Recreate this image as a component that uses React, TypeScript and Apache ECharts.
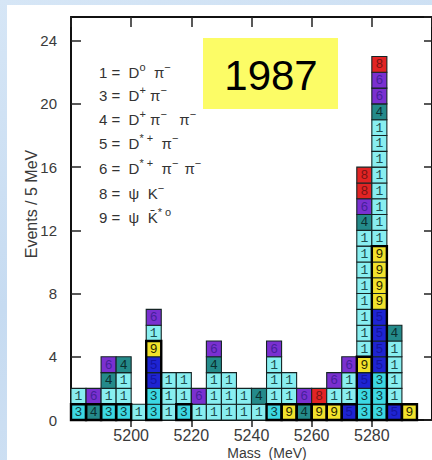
import React, { useEffect, useRef } from "react";
import * as echarts from "echarts";

// Histogram bins (lower edge, MeV), 5 MeV wide
const BIN_WIDTH = 5;
const massBins = [
  5180, 5185, 5190, 5195, 5200, 5205, 5210, 5215, 5220, 5225, 5230, 5235,
  5240, 5245, 5250, 5255, 5260, 5265, 5270, 5275, 5280, 5285, 5290,
];

// Stacked events in each bin, bottom to top, labelled by decay mode
const columns: number[][] = [
  [3, 1],
  [4, 6],
  [3, 1, 4, 6],
  [3, 1, 1, 4],
  [1],
  [3, 3, 5, 5, 9, 1, 6],
  [1, 1, 1],
  [3, 1, 1],
  [1, 6],
  [1, 1, 1, 4, 6],
  [1, 1, 1],
  [1, 1],
  [1, 4],
  [3, 1, 1, 1, 6],
  [9, 1, 1],
  [4, 6],
  [9, 8],
  [9, 1, 6],
  [5, 1, 1, 6],
  [3, 3, 5, 9, 1, 1, 1, 1, 1, 1, 1, 1, 4, 6, 8, 8],
  [3, 3, 3, 5, 5, 5, 5, 9, 9, 9, 9, 1, 1, 1, 1, 1, 1, 1, 1, 4, 6, 6, 8],
  [5, 1, 1, 1, 1, 4],
  [9],
];

// Modes whose bottom run is framed with a heavy outline
const outlinedModes = [3, 4, 5, 9];

const yTicks = { min: 0, max: 25.5, interval: 4 };
const xTicks = { min: 5180, max: 5300, interval: 20 };

const MODE_FILL: Record<number, string> = {
  1: "#88eef0",
  3: "#3cd8e2",
  4: "#248a8a",
  5: "#1e24d2",
  6: "#7a30d0",
  8: "#e22424",
  9: "#f2e22c",
};
const MODE_TEXT: Record<number, string> = {
  1: "#1d4f50",
  3: "#0f3a3c",
  4: "#0b2e2e",
  5: "#1414a0",
  6: "#45209a",
  8: "#7a1414",
  9: "#2a2800",
};

const FONT = "Liberation Sans";

export default function App() {
  const ref = useRef<HTMLDivElement>(null);

  useEffect(() => {
    if (!ref.current) return;
    const chart = echarts.init(ref.current, undefined, { renderer: "svg" });

    const boxData: number[][] = [];
    const outlineData: number[][] = [];
    massBins.forEach((m, i) => {
      const col = columns[i];
      col.forEach((mode, r) => boxData.push([m, r, mode]));
      let n = 0;
      while (n < col.length && outlinedModes.includes(col[n])) n++;
      if (n > 0) outlineData.push([m, n]);
    });

    const sup = { fontSize: 11, lineHeight: 11, verticalAlign: "top", fontFamily: FONT, fill: "#333" };
    const nor = { fontSize: 15, lineHeight: 21, fontFamily: FONT, fill: "#333" };
    const legendLines = [
      "{n|1 =  D}{s|o}{n|  π}{s|−}",
      "{n|3 =  D}{s|+}{n| π}{s|−}",
      "{n|4 =  D}{s|+}{n| π}{s|−}{n|   π}{s|−}",
      "{n|5 =  D}{s|* +}{n|  π}{s|−}",
      "{n|6 =  D}{s|* +}{n|  π}{s|−  }{n|π}{s|−}",
      "{n|8 =  ψ  K}{s|−}",
      "{n|9 =  ψ  K̄}{s|* o}",
    ];
    const legendY = [72, 95, 119, 143, 168, 193, 217];

    const option: any = {
      animation: false,
      backgroundColor: "transparent",
      grid: { left: 71, top: 17, right: -3, bottom: 40 },
      xAxis: [
        {
          type: "value",
          position: "bottom",
          min: xTicks.min,
          max: xTicks.max,
          interval: xTicks.interval,
          axisLine: { onZero: false, lineStyle: { color: "#111", width: 2 } },
          axisTick: { inside: false, length: 7, lineStyle: { color: "#222", width: 1.5 } },
          axisLabel: {
            fontSize: 16,
            color: "#3a3a3a",
            margin: 7,
            fontFamily: FONT,
            showMinLabel: false,
            showMaxLabel: false,
            formatter: (v: number) => String(v),
          },
          splitLine: { show: false },
        },
        {
          type: "value",
          position: "top",
          min: xTicks.min,
          max: xTicks.max,
          interval: xTicks.interval,
          axisLine: { onZero: false, lineStyle: { color: "#111", width: 2 } },
          axisTick: { inside: true, length: 10, lineStyle: { color: "#222", width: 1.5 } },
          axisLabel: { show: false },
          splitLine: { show: false },
        },
      ],
      yAxis: [
        {
          type: "value",
          position: "left",
          min: yTicks.min,
          max: yTicks.max,
          interval: yTicks.interval,
          axisLine: { show: true, onZero: false, lineStyle: { color: "#111", width: 2 } },
          axisTick: { show: true, inside: true, length: 10, lineStyle: { color: "#222", width: 1.5 } },
          axisLabel: { fontSize: 15, color: "#3a3a3a", margin: 14, fontFamily: FONT, showMaxLabel: false },
          splitLine: { show: false },
        },
        {
          type: "value",
          position: "right",
          min: yTicks.min,
          max: yTicks.max,
          interval: yTicks.interval,
          axisLine: { show: true, onZero: false, lineStyle: { color: "#111", width: 2 } },
          axisTick: { show: true, inside: true, length: 8, lineStyle: { color: "#222", width: 1.5 } },
          axisLabel: { show: false },
          splitLine: { show: false },
        },
      ],
      series: [
        {
          type: "custom",
          xAxisIndex: 0,
          yAxisIndex: 0,
          encode: { x: 0, y: 1 },
          data: boxData,
          z: 3,
          renderItem: (_p: any, api: any) => {
            const m = api.value(0);
            const r = api.value(1);
            const mode = api.value(2);
            const p0 = api.coord([m, r]);
            const p1 = api.coord([m + BIN_WIDTH, r + 1]);
            const x = p0[0];
            const y = p1[1];
            const w = p1[0] - p0[0];
            const h = p0[1] - p1[1];
            return {
              type: "group",
              children: [
                {
                  type: "rect",
                  shape: { x, y, width: w, height: h },
                  style: { fill: MODE_FILL[mode], stroke: "#142424", lineWidth: 1.1 },
                },
                {
                  type: "text",
                  style: {
                    text: String(mode),
                    x: x + w / 2,
                    y: y + h / 2 + 0.5,
                    align: "center",
                    verticalAlign: "middle",
                    textAlign: "center",
                    textVerticalAlign: "middle",
                    fill: MODE_TEXT[mode],
                    fontSize: 13,
                    fontFamily: "Liberation Mono",
                  },
                },
              ],
            };
          },
        },
        {
          type: "custom",
          xAxisIndex: 0,
          yAxisIndex: 0,
          encode: { x: 0, y: 1 },
          data: outlineData,
          z: 4,
          silent: true,
          renderItem: (_p: any, api: any) => {
            const m = api.value(0);
            const n = api.value(1);
            const p0 = api.coord([m, 0]);
            const p1 = api.coord([m + BIN_WIDTH, n]);
            return {
              type: "rect",
              shape: { x: p0[0], y: p1[1], width: p1[0] - p0[0], height: p0[1] - p1[1] },
              style: { fill: "none", stroke: "#000", lineWidth: 2.4 },
            };
          },
        },
      ],
      graphic: [
        {
          type: "rect",
          shape: { x: 203, y: 38, width: 135, height: 71 },
          style: { fill: "#fcfc66" },
          z: 10,
        },
        {
          type: "text",
          x: 271,
          y: 75,
          z: 11,
          style: {
            text: "1987",
            fontSize: 42,
            fontFamily: FONT,
            fill: "#000",
            align: "center",
            verticalAlign: "middle",
          },
        },
        ...legendLines.map((t, i) => ({
          type: "text",
          x: 99,
          y: legendY[i],
          z: 11,
          style: {
            text: t,
            verticalAlign: "middle",
            rich: { n: nor, s: sup },
          },
        })),
        {
          type: "text",
          x: 31,
          y: 204,
          rotation: Math.PI / 2,
          z: 11,
          style: {
            text: "Events / 5 MeV",
            fontSize: 16,
            fontFamily: FONT,
            fill: "#3a3a3a",
            align: "center",
            verticalAlign: "middle",
          },
        },
        {
          type: "text",
          x: 267,
          y: 453,
          z: 11,
          style: {
            text: "Mass  (MeV)",
            fontSize: 14,
            fontFamily: FONT,
            fill: "#3a3a3a",
            align: "center",
            verticalAlign: "middle",
          },
        },
      ],
    };

    chart.setOption(option);
    return () => chart.dispose();
  }, []);

  return (
    <div
      style={{
        position: "absolute",
        left: 0,
        top: 0,
        width: 432,
        height: 460,
        overflow: "hidden",
        background: "linear-gradient(160deg, #d6e6f6 0%, #c6dbf1 50%, #d3e3f4 100%)",
      }}
    >
      <div
        style={{
          position: "absolute",
          left: 7,
          top: 5,
          width: 425,
          height: 455,
          background: "#ffffff",
        }}
      />
      <div ref={ref} style={{ position: "absolute", left: 0, top: 0, width: 432, height: 460 }} />
    </div>
  );
}
